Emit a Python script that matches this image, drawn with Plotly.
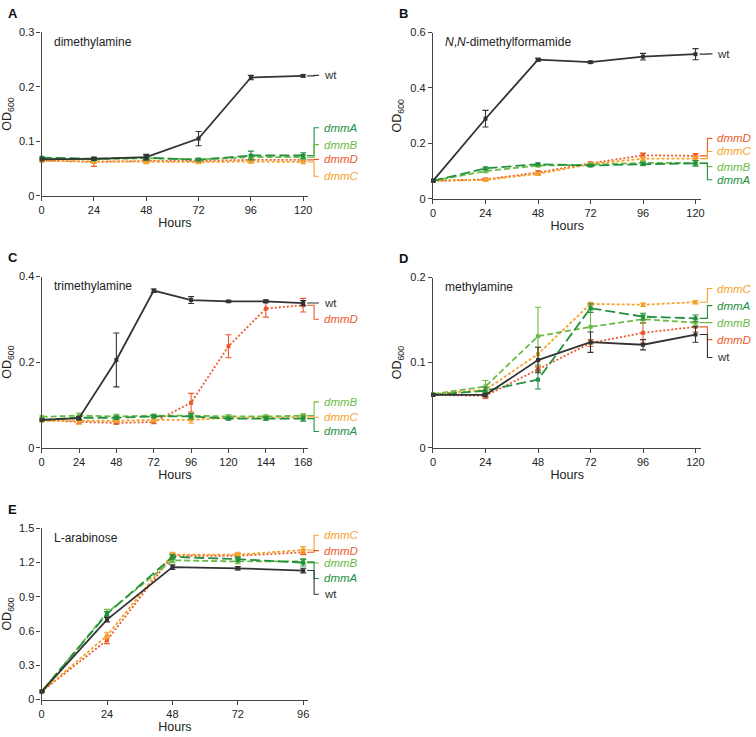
import plotly.graph_objects as go

# ---------------- data ----------------
A_hours = [0, 24, 48, 72, 96, 120]
A_wt = [0.067, 0.068, 0.071, 0.105, 0.217, 0.220]
A_wt_err = [0.002, 0.002, 0.005, 0.013, 0.004, 0.002]
A_dmmA = [0.070, 0.068, 0.070, 0.066, 0.074, 0.074]
A_dmmA_err = [0.002, 0.003, 0.004, 0.002, 0.008, 0.005]
A_dmmB = [0.069, 0.067, 0.069, 0.067, 0.071, 0.071]
A_dmmB_err = [0.002, 0.003, 0.003, 0.002, 0.004, 0.004]
A_dmmD = [0.065, 0.062, 0.064, 0.064, 0.066, 0.066]
A_dmmD_err = [0.002, 0.008, 0.003, 0.003, 0.003, 0.003]
A_dmmC = [0.064, 0.063, 0.062, 0.062, 0.063, 0.062]
A_dmmC_err = [0.002, 0.003, 0.003, 0.003, 0.003, 0.003]

B_hours = [0, 24, 48, 72, 96, 120]
B_wt = [0.065, 0.289, 0.502, 0.493, 0.513, 0.522]
B_wt_err = [0.003, 0.030, 0.005, 0.004, 0.012, 0.020]
B_dmmA = [0.065, 0.110, 0.125, 0.120, 0.125, 0.128]
B_dmmA_err = [0.003, 0.005, 0.004, 0.004, 0.005, 0.010]
B_dmmB = [0.065, 0.100, 0.120, 0.123, 0.130, 0.130]
B_dmmB_err = [0.003, 0.006, 0.004, 0.004, 0.005, 0.008]
B_dmmD = [0.065, 0.070, 0.095, 0.128, 0.157, 0.155]
B_dmmD_err = [0.003, 0.004, 0.006, 0.005, 0.008, 0.008]
B_dmmC = [0.065, 0.068, 0.090, 0.125, 0.145, 0.145]
B_dmmC_err = [0.003, 0.004, 0.006, 0.005, 0.006, 0.008]

C_hours = [0, 24, 48, 72, 96, 120, 144, 168]
C_wt = [0.065, 0.069, 0.205, 0.367, 0.345, 0.342, 0.342, 0.338]
C_wt_err = [0.002, 0.004, 0.063, 0.004, 0.008, 0.002, 0.003, 0.006]
C_dmmD = [0.065, 0.060, 0.058, 0.060, 0.105, 0.237, 0.325, 0.333]
C_dmmD_err = [0.003, 0.004, 0.003, 0.004, 0.022, 0.027, 0.020, 0.016]
C_dmmB = [0.072, 0.075, 0.073, 0.075, 0.075, 0.073, 0.073, 0.075]
C_dmmB_err = [0.002, 0.006, 0.005, 0.003, 0.005, 0.004, 0.003, 0.004]
C_dmmC = [0.063, 0.063, 0.063, 0.065, 0.065, 0.070, 0.070, 0.072]
C_dmmC_err = [0.002, 0.008, 0.004, 0.005, 0.008, 0.003, 0.003, 0.004]
C_dmmA = [0.065, 0.070, 0.070, 0.073, 0.073, 0.068, 0.068, 0.068]
C_dmmA_err = [0.002, 0.004, 0.004, 0.003, 0.006, 0.003, 0.004, 0.006]

D_hours = [0, 24, 48, 72, 96, 120]
D_wt = [0.062, 0.062, 0.103, 0.124, 0.121, 0.133]
D_wt_err = [0.001, 0.002, 0.015, 0.012, 0.006, 0.009]
D_dmmA = [0.062, 0.067, 0.080, 0.164, 0.154, 0.152]
D_dmmA_err = [0.001, 0.004, 0.011, 0.005, 0.004, 0.004]
D_dmmB = [0.063, 0.072, 0.131, 0.142, 0.151, 0.147]
D_dmmB_err = [0.001, 0.007, 0.034, 0.020, 0.005, 0.004]
D_dmmC = [0.063, 0.068, 0.110, 0.169, 0.168, 0.171]
D_dmmC_err = [0.001, 0.003, 0.008, 0.002, 0.002, 0.002]
D_dmmD = [0.062, 0.061, 0.092, 0.123, 0.135, 0.142]
D_dmmD_err = [0.001, 0.003, 0.003, 0.004, 0.012, 0.006]

E_hours = [0, 24, 48, 72, 96]
E_wt = [0.07, 0.70, 1.16, 1.15, 1.13]
E_wt_err = [0.005, 0.02, 0.02, 0.015, 0.02]
E_dmmA = [0.07, 0.75, 1.25, 1.23, 1.20]
E_dmmA_err = [0.005, 0.02, 0.02, 0.02, 0.03]
E_dmmB = [0.07, 0.76, 1.22, 1.21, 1.21]
E_dmmB_err = [0.005, 0.03, 0.02, 0.02, 0.02]
E_dmmD = [0.07, 0.52, 1.26, 1.26, 1.29]
E_dmmD_err = [0.005, 0.03, 0.02, 0.02, 0.02]
E_dmmC = [0.07, 0.56, 1.27, 1.27, 1.31]
E_dmmC_err = [0.005, 0.03, 0.02, 0.02, 0.03]

# ---------------- styles ----------------
W, H = 756, 737
FONT = "Liberation Sans, Arial, sans-serif"
STYLE = {
    "wt":   dict(color="#333333", dash="solid", width=1.8),
    "dmmA": dict(color="#23903f", dash="10px,4px", width=1.8),
    "dmmB": dict(color="#6cbb46", dash="6px,3px", width=1.8),
    "dmmC": dict(color="#f5a22b", dash="3px,2px", width=1.8),
    "dmmD": dict(color="#ec5a2a", dash="2px,2px", width=1.8),
}
DRAW_ORDER = ["dmmD", "dmmC", "dmmB", "dmmA", "wt"]

def px_x(p):
    return p / W

def px_y(p):
    return 1 - p / H

# panel layout (pixel geometry)
panels = [
    dict(letter="A", title="dimethylamine", hours=A_hours,
         series={"wt": (A_wt, A_wt_err), "dmmA": (A_dmmA, A_dmmA_err), "dmmB": (A_dmmB, A_dmmB_err),
                 "dmmD": (A_dmmD, A_dmmD_err), "dmmC": (A_dmmC, A_dmmC_err)},
         x0=39, x1=308, xlast=303, ytop=26.7, ybot=193, ymax=0.3, ydtick=0.1,
         labels={"wt": 0.221, "dmmA": 0.125, "dmmB": 0.094, "dmmD": 0.067, "dmmC": 0.036}),
    dict(letter="B", title="<i>N</i>,<i>N</i>-dimethylformamide", hours=B_hours,
         series={"wt": (B_wt, B_wt_err), "dmmA": (B_dmmA, B_dmmA_err), "dmmB": (B_dmmB, B_dmmB_err),
                 "dmmD": (B_dmmD, B_dmmD_err), "dmmC": (B_dmmC, B_dmmC_err)},
         x0=434, x1=705, xlast=699, ytop=27, ybot=196, ymax=0.6, ydtick=0.2,
         labels={"wt": 0.523, "dmmD": 0.218, "dmmC": 0.171, "dmmB": 0.116, "dmmA": 0.069}),
    dict(letter="C", title="trimethylamine", hours=C_hours,
         series={"wt": (C_wt, C_wt_err), "dmmA": (C_dmmA, C_dmmA_err), "dmmB": (C_dmmB, C_dmmB_err),
                 "dmmD": (C_dmmD, C_dmmD_err), "dmmC": (C_dmmC, C_dmmC_err)},
         x0=39, x1=308, xlast=303, ytop=275, ybot=449, ymax=0.4, ydtick=0.2,
         labels={"wt": 0.338, "dmmD": 0.300, "dmmB": 0.107, "dmmC": 0.071, "dmmA": 0.038}),
    dict(letter="D", title="methylamine", hours=D_hours,
         series={"wt": (D_wt, D_wt_err), "dmmA": (D_dmmA, D_dmmA_err), "dmmB": (D_dmmB, D_dmmB_err),
                 "dmmD": (D_dmmD, D_dmmD_err), "dmmC": (D_dmmC, D_dmmC_err)},
         x0=434, x1=705, xlast=699, ytop=276, ybot=449, ymax=0.2, ydtick=0.1,
         labels={"dmmC": 0.187, "dmmA": 0.167, "dmmB": 0.147, "dmmD": 0.127, "wt": 0.106}),
    dict(letter="E", title="L-arabinose", hours=E_hours,
         series={"wt": (E_wt, E_wt_err), "dmmA": (E_dmmA, E_dmmA_err), "dmmB": (E_dmmB, E_dmmB_err),
                 "dmmD": (E_dmmD, E_dmmD_err), "dmmC": (E_dmmC, E_dmmC_err)},
         x0=39, x1=308, xlast=303, ytop=531, ybot=705, ymax=1.5, ydtick=0.3,
         labels={"dmmC": 1.440, "dmmD": 1.305, "dmmB": 1.196, "dmmA": 1.061, "wt": 0.923}),
]

fig = go.Figure()
layout = dict(
    width=W, height=H, margin=dict(l=0, r=0, t=0, b=0),
    paper_bgcolor="white", plot_bgcolor="white", showlegend=False,
    font=dict(family=FONT, color="#222222"),
    annotations=[], shapes=[],
)

for i, p in enumerate(panels):
    n = "" if i == 0 else str(i + 1)
    xa, ya = "x" + n, "y" + n
    hours = p["hours"]
    xmax = hours[-1] * (p["x1"] - p["x0"]) / (p["xlast"] - p["x0"])
    for name in DRAW_ORDER:
        vals, errs = p["series"][name]
        st = STYLE[name]
        fig.add_trace(go.Scatter(
            x=hours, y=vals, xaxis=xa, yaxis=ya, mode="lines+markers", name=name,
            line=dict(color=st["color"], dash=st["dash"], width=st["width"]),
            marker=dict(symbol="square", size=4, color=st["color"]),
            error_y=dict(type="data", array=errs, visible=True, color=st["color"],
                         thickness=1.1, width=3),
            cliponaxis=False,
        ))
    axis_common = dict(showline=True, linecolor="#444444", linewidth=1.3, ticks="outside",
                       ticklen=4, tickwidth=1.3, tickcolor="#444444", showgrid=False,
                       zeroline=False, tickfont=dict(size=11, family=FONT, color="#222222"))
    layout["xaxis" + n] = dict(
        axis_common, domain=[px_x(p["x0"]), px_x(p["x1"])], range=[0, xmax],
        tickmode="array", tickvals=hours, anchor=ya,
        title=dict(text="Hours", font=dict(size=12.5, family=FONT), standoff=3),
    )
    layout["yaxis" + n] = dict(
        axis_common, domain=[px_y(p["ybot"]), px_y(p["ytop"])], range=[0, p["ymax"]],
        dtick=p["ydtick"], tick0=0, anchor=xa,
        title=dict(text="OD<sub>600</sub>", font=dict(size=12.5, family=FONT), standoff=5),
    )
    # panel letter
    layout["annotations"].append(dict(
        text="<b>%s</b>" % p["letter"], xref="paper", yref="paper",
        x=px_x(p["x0"] - 36), y=px_y(p["ytop"] - 19), xanchor="left", yanchor="middle",
        showarrow=False, font=dict(size=13, family=FONT, color="#111111")))
    # panel title
    layout["annotations"].append(dict(
        text=p["title"], xref="paper", yref="paper",
        x=px_x(p["x0"] + 10), y=px_y(p["ytop"] + 10), xanchor="left", yanchor="middle",
        showarrow=False, font=dict(size=12, family=FONT, color="#222222")))
    # strain labels with bracket connectors
    bx = p["x1"] + 6
    for name, ly in p["labels"].items():
        st = STYLE[name]
        yend = p["series"][name][0][-1]
        txt = name if name == "wt" else "<i>%s</i>" % name
        layout["annotations"].append(dict(
            text=txt, xref="paper", yref=ya, x=px_x(bx + 8), y=ly,
            xanchor="left", yanchor="middle", showarrow=False,
            font=dict(size=11.5, family=FONT, color=st["color"])))
        path = "M %f,%f H %f V %f H %f" % (px_x(p["xlast"] + 4), yend, px_x(bx), ly, px_x(bx + 5))
        layout["shapes"].append(dict(
            type="path", xref="paper", yref=ya, path=path,
            line=dict(color=st["color"], width=1.1)))

fig.update_layout(**layout)
fig.write_html("out.html")
